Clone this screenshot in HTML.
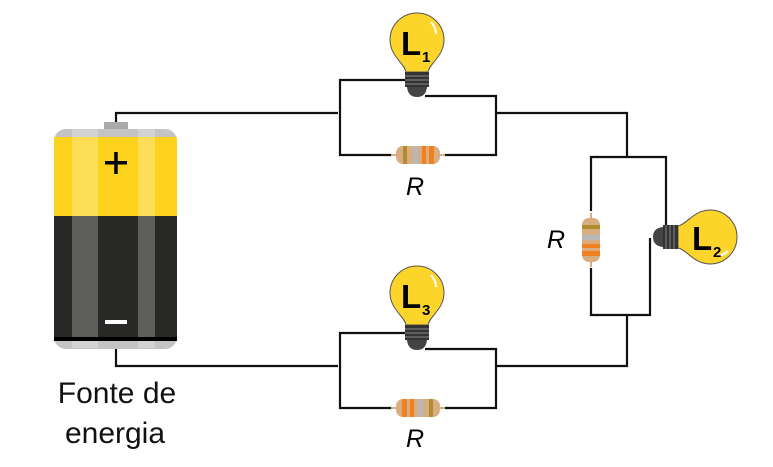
<!DOCTYPE html>
<html><head><meta charset="utf-8"><style>html,body{margin:0;padding:0;background:#fff;}svg{display:block}</style></head><body>
<svg width="773" height="467" viewBox="0 0 773 467" xmlns="http://www.w3.org/2000/svg">
<defs>
<g id="bulb">
 <path d="M-11,30 C-12,22 -27,14 -27,-2 A27,27 0 1 1 27,-2 C27,14 12,22 11,30 Z" fill="#fdd42a" stroke="#555" stroke-width="1"/>
 <path d="M14,-20 A18,18 0 0 1 19,-8" fill="none" stroke="#fff" stroke-width="2"/>
 <rect x="-12" y="30" width="24" height="15" fill="#333"/>
 <line x1="-12" y1="34" x2="12" y2="34" stroke="#777" stroke-width="1.2"/>
 <line x1="-12" y1="38" x2="12" y2="38" stroke="#777" stroke-width="1.2"/>
 <line x1="-12" y1="42" x2="12" y2="42" stroke="#777" stroke-width="1.2"/>
 <path d="M-10,45 L10,45 Q9,55 0,55 Q-9,55 -10,45 Z" fill="#444"/>
</g>
<g id="res">
 <rect x="-27" y="-1" width="54" height="2" fill="#d8b080"/>
 <rect x="-22" y="-9" width="44" height="18" rx="7" fill="#d9ad82"/>
 <rect x="-15" y="-9" width="4" height="18" fill="#b08d2f"/>
 <rect x="-5" y="-9" width="5" height="18" fill="#b8b8b8"/>
 <rect x="4" y="-9" width="4" height="18" fill="#f08020"/>
 <rect x="11" y="-9" width="5" height="18" fill="#f08020"/>
</g>
</defs>
<g fill="none" stroke="#111" stroke-width="2.2">
 <polyline points="116,125 116,113 338,113"/>
 <polyline points="405,80 340,80 340,155 392,155"/>
 <polyline points="445,155 496,155 496,96 425,96"/>
 <polyline points="496,113 627,113 627,157"/>
 <polyline points="591,211 591,157 666,157 666,227"/>
 <polyline points="591,268 591,315 650,315 650,238"/>
 <polyline points="627,315 627,366 496,366"/>
 <polyline points="116,348 116,366 338,366"/>
 <polyline points="405,333 340,333 340,408 392,408"/>
 <polyline points="445,408 496,408 496,349 425,349"/>
</g>
<rect x="104" y="122" width="24" height="10" fill="#aaa"/>
<rect x="54" y="129" width="123" height="220" rx="12" fill="#c4c4c4"/>
<rect x="54" y="137" width="123" height="79" fill="#fcd21c"/>
<rect x="54" y="216" width="123" height="123" fill="#282826"/>
<rect x="72" y="129" width="26" height="219" fill="#fff" opacity="0.25"/>
<rect x="138" y="129" width="17" height="219" fill="#fff" opacity="0.25"/>
<rect x="54" y="337" width="123" height="4" fill="#000"/>
<rect x="105" y="161" width="22" height="3.5" fill="#000"/>
<rect x="114.2" y="152" width="3.5" height="22" fill="#000"/>
<rect x="105" y="320" width="22" height="4" fill="#fff"/>
<use href="#bulb" x="417" y="42"/>
<use href="#bulb" x="417" y="295"/>
<use href="#bulb" transform="translate(708,237) rotate(90)"/>
<use href="#res" x="418" y="155"/>
<use href="#res" transform="translate(418,408) rotate(180)"/>
<use href="#res" transform="translate(591,240) rotate(90)"/>
<g font-family="Liberation Sans, sans-serif" font-weight="bold" fill="#000">
 <text x="401" y="55" font-size="33">L</text><text x="422" y="62" font-size="15">1</text>
 <text x="401" y="308" font-size="33">L</text><text x="422" y="315" font-size="15">3</text>
 <text x="692" y="250" font-size="33">L</text><text x="713" y="257" font-size="15">2</text>
</g>
<g font-family="Liberation Sans, sans-serif" font-style="italic" font-size="25" fill="#000">
 <text x="406" y="195">R</text>
 <text x="406" y="447">R</text>
 <text x="547" y="248">R</text>
</g>
<g font-family="Liberation Sans, sans-serif" font-size="30" fill="#111" text-anchor="middle">
 <text x="117" y="403">Fonte de</text>
 <text x="115" y="443">energia</text>
</g>
</svg>
</body></html>
